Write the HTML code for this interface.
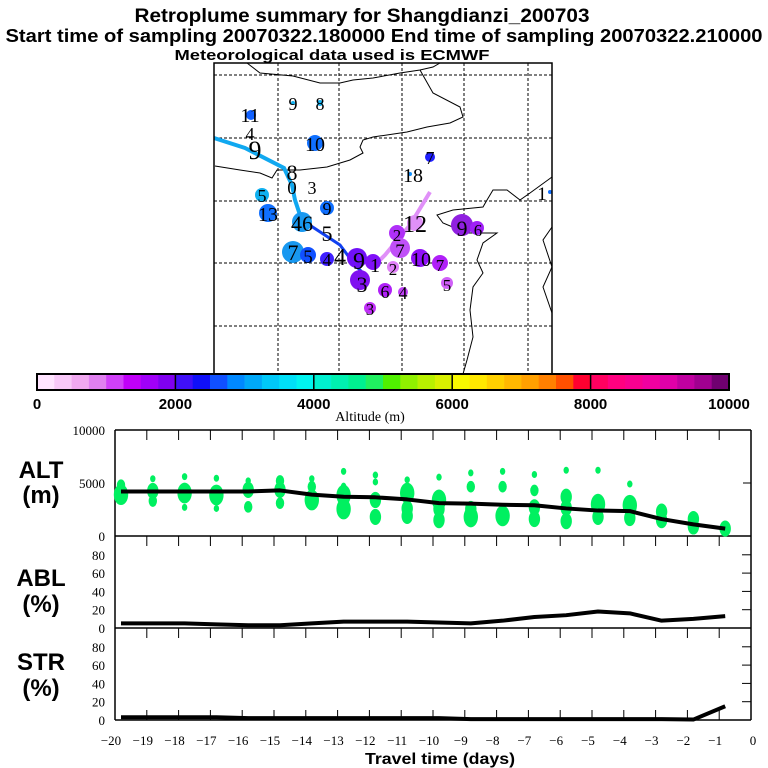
<!DOCTYPE html>
<html><head><meta charset="utf-8"><style>
html,body{margin:0;padding:0;background:#fff;width:768px;height:768px;overflow:hidden}
svg{display:block}
text{font-family:"Liberation Sans",sans-serif}
.ser{font-family:"Liberation Serif",serif}
</style></head><body>
<svg id="chart" width="768" height="768" viewBox="0 0 768 768" xmlns="http://www.w3.org/2000/svg">
<g font-weight="bold" fill="#000" text-anchor="middle">
<text x="362" y="22" font-size="19" textLength="455" lengthAdjust="spacingAndGlyphs">Retroplume summary for Shangdianzi_200703</text>
<text x="384" y="42" font-size="18" textLength="757" lengthAdjust="spacingAndGlyphs">Start time of sampling 20070322.180000      End time of sampling 20070322.210000</text>
<text x="332" y="60" font-size="15" textLength="315" lengthAdjust="spacingAndGlyphs">Meteorological data used is ECMWF</text>
</g>
<g id="map"></g>
<g id="cbar"></g>
<g id="panels"></g>
</svg>
<script>
const NS="http://www.w3.org/2000/svg";
function mk(parent,tag,attrs,txt){const e=document.createElementNS(NS,tag);for(const k in attrs)e.setAttribute(k,attrs[k]);if(txt!==undefined)e.textContent=txt;parent.appendChild(e);return e;}

// ---------- data ----------
const days=[-20,-19,-18,-17,-16,-15,-14,-13,-12,-11,-10,-9,-8,-7,-6,-5,-4,-3,-2,-1];
const altMean=[4200,4200,4200,4200,4200,4300,3900,3700,3650,3450,3100,3050,2950,2900,2600,2400,2350,1600,1100,700];
const ablPct=[5,5,5,4,3,3,5,7,7,7,6,5,8,12,14,18,16,8,10,13];
const strPct=[3,3,3,3,2,2,2,2,2,2,2,1,1,1,1,1,1,1,0.5,15];
const blobDays=[-20,-20,-19,-19,-19,-18,-18,-18,-17,-17,-17,-16,-16,-16,-15,-15,-15,-14,-14,-14,-13,-13,-13,-13,-12,-12,-12,-12,-11,-11,-11,-11,-10,-10,-10,-10,-9,-9,-9,-9,-8,-8,-8,-7,-7,-7,-7,-6,-6,-6,-6,-5,-5,-5,-4,-4,-4,-3,-3,-2,-2,-1];
const blobAlts=[4800,3900,5400,4250,3300,5600,4050,2700,5450,3870,2600,5200,4350,2750,5200,4350,3100,5400,4650,3400,6100,4700,3850,2550,5750,5100,3400,1800,5300,4050,2600,1900,5550,3400,2550,1500,5950,4650,2550,1800,6100,4650,1900,5800,4300,2700,1600,6200,3700,2650,1400,6200,3000,1800,4900,2900,1700,2300,1500,1600,900,700];
const blobSizes=[2,4,1,3,2,1,4,1,1,4,1,1,3,2,2,3,2,1,2,4,1,1,4,4,1,1,3,3,1,4,3,3,1,4,3,3,1,2,3,4,1,2,4,1,2,3,3,1,3,3,3,1,4,3,1,4,3,3,3,3,3,3];
const cbarTicks=[0,2000,4000,6000,8000,10000];
const cbarColors=["#ffe4ff","#f8c8f8","#f0a8f0","#e080f0","#d040f8","#c000f8","#a000f8","#8000f0",
"#4010f8","#1010f8","#1050ff","#0088ff","#00a8f8","#00c8f8","#00e0f8","#00f4f0",
"#00f0d0","#00f0b0","#00f090","#20f060","#50f000","#90f000","#b8f000","#d8f000",
"#f8f800","#ffe800","#ffd000","#ffb800","#ffa000","#ff8000","#ff5000","#ff0030",
"#ff0060","#ff0080","#f80090","#f000a0","#e000a8","#c000a0","#a00090","#700070"];
const ablTicks=[0,20,40,60,80];
const altTicks=[0,5000,10000];

// ---------- axes ----------
const X0=115, X1=751;
const xd=d=>751+31.8*d;
const xdat=d=>xd(d)+6;
const yAlt=v=>536-v*0.0106;
const yAbl=p=>628-p*0.915;
const yStr=p=>720-p*0.915;

// ---------- colorbar ----------
const cb=document.getElementById('cbar');
const CBX0=37,CBX1=729,CBY=374,CBH=16;
const cx=v=>CBX0+(CBX1-CBX0)*v/10000;
cbarColors.forEach((c,i)=>{
 const r=mk(cb,'rect',{x:cx(i*250),y:CBY,width:cx((i+1)*250)-cx(i*250)+0.3,height:CBH,fill:c});
 
 
});
mk(cb,'rect',{x:CBX0,y:CBY,width:CBX1-CBX0,height:CBH,fill:'none',stroke:'#000','stroke-width':2});
cbarTicks.forEach(v=>{
 if(v>0&&v<10000) mk(cb,'line',{x1:cx(v),x2:cx(v),y1:CBY,y2:CBY+CBH,stroke:'#000','stroke-width':1.5});
 const t=mk(cb,'text',{x:cx(v),y:409,'font-size':15,'font-weight':'bold','text-anchor':'middle'},String(v));
 
 
});
const at=mk(cb,'text',{x:370,y:421,'font-size':14,'text-anchor':'middle',class:'ser'},'Altitude (m)');



// ---------- map ----------
const mp=document.getElementById('map');
const MX0=214,MX1=552,MY0=63,MY1=374;
[278,339,402,464,528].forEach(x=>mk(mp,'line',{x1:x,x2:x,y1:MY0,y2:MY1,stroke:'#000','stroke-width':1,'stroke-dasharray':'3,2'}));
[75,138,201,263,326].forEach(y=>mk(mp,'line',{x1:MX0,x2:MX1,y1:y,y2:y,stroke:'#000','stroke-width':1,'stroke-dasharray':'3,2'}));
const coasts=[
"247,63 260,73 293,76 320,83 340,83 353,80 373,78 400,73 420,70 433,67 440,63",
"420,70 433,93 460,107 463,117 450,123 427,127 407,132 373,137 363,140 360,147 363,153 350,160 327,167 300,170 277,170 272,178 260,173 240,170 215,166",
"552,177 530,193 520,200 507,190 493,190 487,200 483,207 453,210 437,215 443,223 467,233 497,233 483,243 477,260 483,273 473,287 470,310 473,337 467,360 463,374",
"552,227 543,240 552,267 543,287 552,313"];
coasts.forEach(p=>{const e=mk(mp,'polyline',{points:p,fill:'none',stroke:'#000','stroke-width':1});});
mk(mp,'polyline',{points:"214,138 245,148 284,168 292,185 295,200 300,215",fill:'none',stroke:'#10a8f0','stroke-width':4});
mk(mp,'polyline',{points:"300,215 305,222 340,245 355,265 365,275",fill:'none',stroke:'#1040f0','stroke-width':3});
mk(mp,'polyline',{points:"430,192 410,225 385,255 375,265",fill:'none',stroke:'#e090f8','stroke-width':4});
const circles=[[251,115,5,'#1060ff'],[293,103,2,'#10b0f0'],[320,103,3,'#10b0f0'],[315,143,8,'#1070ff'],[430,157,5,'#2020ff'],[410,174,2,'#1090ff'],[550,192,2,'#1070ff'],
[262,195,7,'#10b0f0'],[268,213,9,'#1070ff'],[327,208,7,'#1070ff'],[302,222,10,'#1898f0'],[293,252,11,'#1898f0'],[308,255,8,'#1050ff'],[327,259,7,'#4020ff'],
[357,258,10,'#7010f8'],[373,262,8,'#8010f8'],[360,280,10,'#8010f0'],[385,290,7,'#b020f8'],[403,292,5,'#c040f8'],[370,308,6,'#c030f8'],[420,258,9,'#9010f8'],
[440,263,8,'#b020f8'],[447,283,6,'#d060f8'],[462,225,11,'#9020e0'],[477,228,7,'#a020f8'],[415,223,8,'#e090f8'],[397,233,8,'#b030f8'],[400,248,10,'#c050f8'],[393,267,6,'#e080f8']];
circles.forEach(c=>{const e=mk(mp,'circle',{cx:c[0],cy:c[1],r:c[2],fill:c[3]});});
const labels=[[250,122,'11',20],[293,110,'9',18],[320,110,'8',18],[250,140,'4',18],[255,159,'9',26],[315,151,'10',20],[430,164,'7',18],[413,182,'18',20],[542,200,'1',19],
[292,180,'8',22],[292,194,'0',19],[312,194,'3',18],[262,202,'5',18],[268,221,'13',20],[327,215,'9',18],[302,231,'46',22],[327,241,'5',22],[293,260,'7',22],[308,263,'5',19],
[327,266,'4',18],[340,265,'4',24],[359,269,'9',24],[375,272,'1',20],[362,292,'3',22],[385,298,'6',18],[403,299,'4',18],[370,315,'3',17],[421,266,'10',20],
[440,271,'7',17],[447,291,'5',17],[462,236,'9',22],[478,236,'6',17],[415,232,'12',24],[397,241,'2',17],[400,257,'7',19],[393,275,'2',17]];
labels.forEach(l=>{const e=mk(mp,'text',{x:l[0],y:l[1],'font-size':l[3],'text-anchor':'middle',class:'ser'},l[2]);});
mk(mp,'rect',{x:MX0,y:MY0,width:MX1-MX0,height:MY1-MY0,fill:'none',stroke:'#000','stroke-width':1.5});

// ---------- time series panels ----------
const pn=document.getElementById('panels');
mk(pn,'line',{x1:X0,x2:X0,y1:430,y2:720,stroke:'#000','stroke-width':1.5});
mk(pn,'line',{x1:X1,x2:X1,y1:430,y2:720,stroke:'#000','stroke-width':1.5});
[430,536,628,720].forEach(y=>mk(pn,'line',{x1:X0,x2:X1,y1:y,y2:y,stroke:'#000','stroke-width':1.5}));
days.forEach(d=>{
 const x=xd(d);
 [[430,440],[536,546],[628,638],[710,720]].forEach(s=>mk(pn,'line',{x1:x,x2:x,y1:s[0],y2:s[1],stroke:'#000','stroke-width':1}));
});
altTicks.forEach(v=>{
 mk(pn,'line',{x1:X1-8,x2:X1,y1:yAlt(v),y2:yAlt(v),stroke:'#000'});
 const t=mk(pn,'text',{x:105,y:yAlt(v)+5,'font-size':13,'text-anchor':'end',class:'ser'},String(v));
 
});
[[yAbl,'abl'],[yStr,'str']].forEach(([f,n])=>{
 ablTicks.forEach(v=>{
  mk(pn,'line',{x1:X1-9,x2:X1,y1:f(v),y2:f(v),stroke:'#000'});
  const t=mk(pn,'text',{x:105,y:f(v)+5,'font-size':13,'text-anchor':'end',class:'ser'},String(v));
  
 });
});
blobDays.forEach((d,i)=>{
 const s=blobSizes[i];
 const e=mk(pn,'ellipse',{cx:xdat(d),cy:yAlt(blobAlts[i]),rx:1.2+s*1.5,ry:1.2+s*2.3,fill:'#00f060'});
 
 
});
function line(vals,f,name){
 const pts=days.map((d,i)=>xdat(d)+','+f(vals[i])).join(' ');
 const e=mk(pn,'polyline',{points:pts,fill:'none',stroke:'#000','stroke-width':4,'stroke-linejoin':'round'});
 
 
}
line(altMean,yAlt,'alt-mean-line');
line(ablPct,yAbl,'abl-line');
line(strPct,yStr,'str-line');
[-20,-19,-18,-17,-16,-15,-14,-13,-12,-11,-10,-9,-8,-7,-6,-5,-4,-3,-2,-1,0].forEach(d=>{
 const t=mk(pn,'text',{x:xd(d)-(d<0?4:-2),y:745,'font-size':13,'text-anchor':'middle',class:'ser'},d<0?'\u2212'+(-d):'0');
 
});
const xt=mk(pn,'text',{x:440,y:764,'font-size':16,'font-weight':'bold','text-anchor':'middle',textLength:150,lengthAdjust:'spacingAndGlyphs'},'Travel time (days)');

[['ALT',478,'alt-title'],['(m)',503,'alt-unit'],['ABL',586,'abl-title'],['(%)',612,'abl-unit'],['STR',670,'str-title'],['(%)',696,'str-unit']].forEach(a=>{
 const t=mk(pn,'text',{x:41,y:a[1],'font-size':24,'font-weight':'bold','text-anchor':'middle'},a[0]);
 
});
</script>
</body></html>
